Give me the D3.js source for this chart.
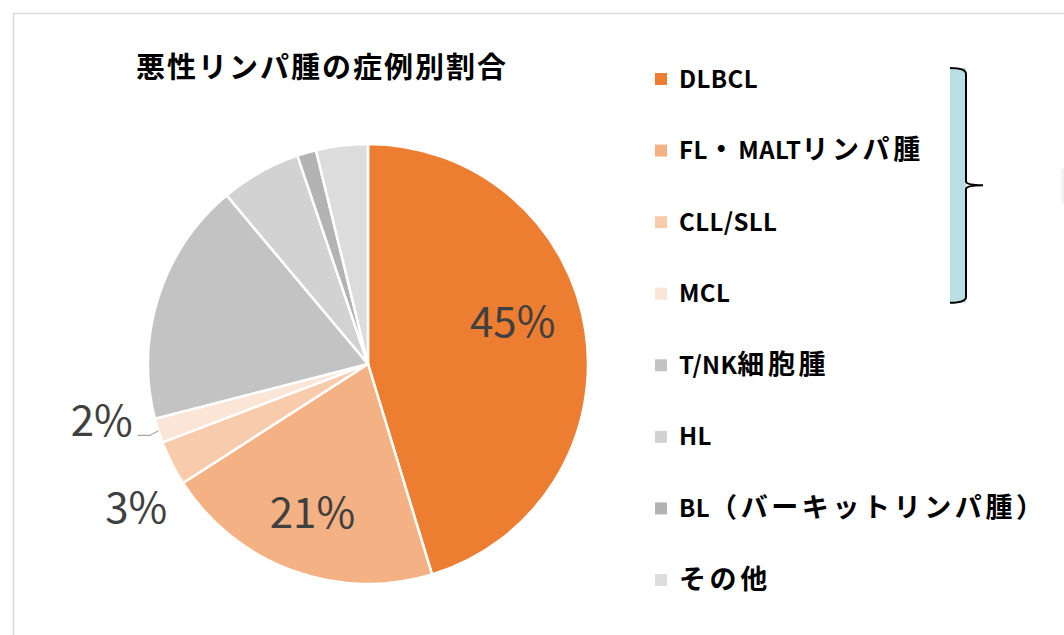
<!DOCTYPE html>
<html>
<head>
<meta charset="utf-8">
<script src="https://cdn.jsdelivr.net/npm/d3@7"></script>
<style>
  body { margin: 0; background: #fff; }
  svg { display: block; }
  text { font-family: "Noto Sans CJK JP", "Noto Sans", sans-serif; }
</style>
</head>
<body>
<div id="chart"></div>
<script>
// data (percent of cases)
const labels = ["DLBCL", "FL・MALTリンパ腫", "CLL/SLL", "MCL", "T/NK細胞腫", "HL", "BL（バーキットリンパ腫）", "その他"];
const values = [45.3, 20.6, 3.3, 1.8, 17.9, 5.9, 1.4, 3.8];
const shownLabels = ["45%", "21%", "3%", "2%", "", "", "", ""];
const colors = ["#ED7D31", "#F4B183", "#F8CBAD", "#FBE5D6", "#C3C3C3", "#D2D2D2", "#B3B3B3", "#DCDCDC"];

const width = 1064, height = 635;
const cx = 368, cy = 364, radius = 220;

const svg = d3.select("#chart")
  .append("svg")
  .attr("width", width)
  .attr("height", height);

// outer frame (only top and left visible)
svg.append("path")
  .attr("d", `M13.5,${height} L13.5,13.5 L${width},13.5`)
  .attr("fill", "none")
  .attr("stroke", "#D9D9D9")
  .attr("stroke-width", 1.5);

// title
svg.append("text")
  .text("悪性リンパ腫の症例別割合")
  .attr("x", 322)
  .attr("y", 78)
  .attr("text-anchor", "middle")
  .attr("font-size", 29)
  .attr("letter-spacing", 2)
  .attr("font-weight", "bold")
  .attr("fill", "#000");

const pie = d3.pie().sort(null).value(d => d);
const arcs = pie(values);
const arc = d3.arc().innerRadius(0).outerRadius(radius);

const g = svg.append("g").attr("transform", `translate(${cx},${cy})`);

g.selectAll("path.slice")
  .data(arcs)
  .enter()
  .append("path")
  .attr("class", "slice")
  .attr("d", arc)
  .attr("fill", (d, i) => colors[i])
  .attr("stroke", "#fff")
  .attr("stroke-width", 2.5);

// label placement: inside slices for the big ones, outside for the small ones
const inside = d3.arc().innerRadius(radius * 0.72).outerRadius(radius * 0.72);
const outside = d3.arc().innerRadius(272).outerRadius(272);
const nudge = [[-12, -19], [-1, 0], [11, 21], [-7, -26]];

arcs.forEach((d, i) => {
  if (!shownLabels[i]) return;
  const isOut = values[i] < 5;
  const p = (isOut ? outside : inside).centroid(d);
  const n = nudge[i] || [0, 0];
  const x = p[0] + n[0], y = p[1] + n[1];
  if (i === 3) {
    // leader line for the 2% label
    const a = (d.startAngle + d.endAngle) / 2;
    const ex = Math.sin(a) * radius, ey = -Math.cos(a) * radius;
    g.append("path")
      .attr("d", `M${x + 36},${y + 15} L${x + 48},${y + 15} L${ex},${ey}`)
      .attr("fill", "none")
      .attr("stroke", "#A6A6A6")
      .attr("stroke-width", 1.2);
  }
  g.append("text")
    .text(shownLabels[i])
    .attr("x", x)
    .attr("y", y)
    .attr("dy", "0.36em")
    .attr("text-anchor", "middle")
    .attr("font-family", "'Open Sans', 'Noto Sans', sans-serif")
    .attr("font-size", 42)
    .attr("fill", "#404040");
});

// legend
const legendY = d3.scalePoint()
  .domain(labels)
  .range([79, 580]);

// split a label into latin / CJK runs so the CJK part can be spread wider
function runs(s) {
  return s.match(/[\x00-\x7F]+|[^\x00-\x7F]+/g);
}

const legend = svg.append("g");
labels.forEach((name, i) => {
  legend.append("rect")
    .attr("x", 655)
    .attr("y", legendY(name) - 6)
    .attr("width", 12)
    .attr("height", 12)
    .attr("fill", colors[i]);
  const t = legend.append("text")
    .attr("x", 679)
    .attr("y", legendY(name))
    .attr("dy", "0.36em")
    .attr("font-size", 24)
    .attr("font-weight", "bold")
    .attr("fill", "#000");
  runs(name).forEach(r => {
    const cjk = /[^\x00-\x7F]/.test(r);
    t.append("tspan")
      .text(r)
      .attr("font-size", cjk ? 27 : 24)
      .attr("letter-spacing", cjk ? 3.6 : 0.4);
  });
});

// brace grouping the B-cell types
const bTop = legendY(labels[0]) - 11, bBot = legendY(labels[3]) + 9;
const bMid = (bTop + bBot) / 2;
svg.append("rect")
  .attr("x", 950)
  .attr("y", bTop)
  .attr("width", 16)
  .attr("height", bBot - bTop)
  .attr("fill", "#B9DFE3");
svg.append("path")
  .attr("d", `M950,${bTop} Q966,${bTop} 966,${bTop + 6} L966,${bMid - 4} Q966,${bMid} 983,${bMid} Q966,${bMid} 966,${bMid + 4} L966,${bBot - 6} Q966,${bBot} 950,${bBot}`)
  .attr("fill", "none")
  .attr("stroke", "#000")
  .attr("stroke-width", 2);

// faint shape cut off at right edge
svg.append("rect")
  .attr("x", 1061)
  .attr("y", 168)
  .attr("width", 10)
  .attr("height", 36)
  .attr("rx", 4)
  .attr("fill", "#F2F2F2");
</script>
</body>
</html>
